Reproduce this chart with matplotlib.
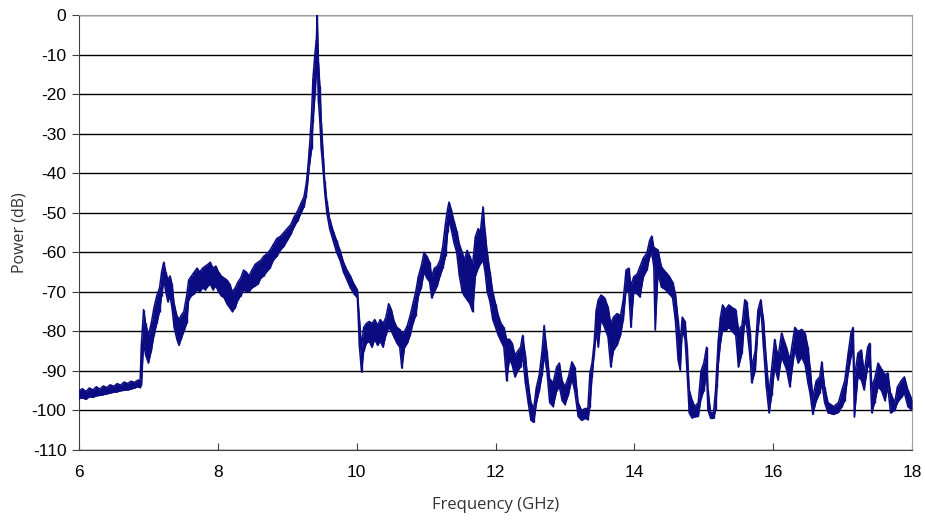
import numpy as np
import matplotlib.pyplot as plt

plt.rcParams['axes.unicode_minus'] = False

# frequency (GHz) and the upper / lower edge of the noisy trace (dB)
freq = [6.00, 6.05, 6.10, 6.15, 6.20, 6.25, 6.30, 6.35, 6.40, 6.45, 6.50, 6.55, 6.60, 6.65, 6.70,
        6.75, 6.80, 6.85, 6.88, 6.90, 6.93, 6.96, 7.00, 7.04, 7.08, 7.12, 7.16, 7.19, 7.22, 7.25,
        7.28, 7.31, 7.34, 7.37, 7.41, 7.44, 7.47, 7.51, 7.55, 7.58, 7.62, 7.66, 7.70, 7.74, 7.78,
        7.82, 7.86, 7.89, 7.93, 7.97, 8.01, 8.05, 8.09, 8.13, 8.17, 8.21, 8.25, 8.29, 8.33, 8.37,
        8.41, 8.45, 8.49, 8.54, 8.58, 8.62, 8.66, 8.70, 8.75, 8.80, 8.85, 8.90, 8.95, 9.00, 9.05,
        9.10, 9.15, 9.20, 9.24, 9.27, 9.29, 9.32, 9.35, 9.37, 9.40, 9.42, 9.43, 9.45, 9.47, 9.49,
        9.52, 9.54, 9.57, 9.61, 9.66, 9.71, 9.76, 9.81, 9.86, 9.91, 9.96, 10.01, 10.04, 10.07, 10.10,
        10.14, 10.18, 10.22, 10.26, 10.30, 10.34, 10.38, 10.42, 10.46, 10.50, 10.54, 10.58, 10.62, 10.65, 10.69,
        10.73, 10.77, 10.81, 10.85, 10.89, 10.93, 10.97, 11.01, 11.05, 11.08, 11.12, 11.16, 11.20, 11.24, 11.28,
        11.31, 11.33, 11.36, 11.40, 11.44, 11.48, 11.52, 11.55, 11.59, 11.63, 11.67, 11.71, 11.75, 11.78, 11.82,
        11.85, 11.88, 11.92, 11.96, 12.00, 12.04, 12.08, 12.12, 12.16, 12.20, 12.24, 12.28, 12.32, 12.36, 12.39,
        12.43, 12.47, 12.51, 12.55, 12.59, 12.63, 12.67, 12.70, 12.74, 12.78, 12.83, 12.88, 12.92, 12.96, 13.00,
        13.05, 13.10, 13.14, 13.19, 13.24, 13.29, 13.33, 13.36, 13.39, 13.42, 13.45, 13.48, 13.52, 13.57, 13.62,
        13.66, 13.70, 13.75, 13.80, 13.84, 13.88, 13.92, 13.95, 13.99, 14.04, 14.08, 14.13, 14.18, 14.22, 14.25,
        14.28, 14.30, 14.34, 14.39, 14.45, 14.50, 14.55, 14.59, 14.63, 14.66, 14.69, 14.73, 14.76, 14.79, 14.83,
        14.87, 14.92, 14.96, 15.00, 15.04, 15.06, 15.10, 15.14, 15.17, 15.19, 15.21, 15.24, 15.27, 15.31, 15.36,
        15.41, 15.46, 15.50, 15.55, 15.59, 15.62, 15.67, 15.69, 15.74, 15.78, 15.82, 15.86, 15.90, 15.94, 15.98,
        16.02, 16.07, 16.12, 16.19, 16.24, 16.31, 16.36, 16.41, 16.46, 16.50, 16.53, 16.57, 16.62, 16.67, 16.70,
        16.74, 16.79, 16.87, 16.94, 16.99, 17.03, 17.08, 17.12, 17.15, 17.17, 17.22, 17.27, 17.31, 17.36, 17.39,
        17.42, 17.46, 17.51, 17.56, 17.61, 17.65, 17.69, 17.75, 17.79, 17.85, 17.89, 17.94, 18.00]

power_hi = [-95.0, -94.5, -95.2, -94.3, -94.8, -94.0, -94.6, -93.8, -94.2, -93.5, -93.9, -93.2, -93.6, -92.8, -93.2,
            -92.6, -92.9, -92.3, -92.5, -83.0, -74.5, -78.0, -81.0, -78.0, -74.0, -71.0, -69.0, -65.0, -62.5, -65.0,
            -67.0, -66.0, -68.0, -73.0, -76.0, -77.0, -76.0, -75.0, -71.0, -67.0, -66.0, -65.0, -64.0, -65.0, -64.0,
            -63.5, -63.0, -62.5, -64.0, -63.5, -65.0, -66.0, -66.5, -67.0, -68.0, -70.0, -69.0, -67.5, -66.5, -64.5,
            -65.0, -66.0, -64.5, -63.0, -62.5, -62.0, -61.0, -60.5, -59.5, -58.0, -56.5, -56.0, -55.0, -54.0, -53.0,
            -51.0, -49.5, -47.5, -46.0, -43.0, -40.0, -33.5, -25.0, -16.0, -9.5, -6.0, 0.0, -12.0, -18.0, -27.0,
            -36.0, -42.0, -47.0, -51.5, -54.5, -57.0, -59.5, -62.5, -64.5, -66.0, -68.0, -69.5, -77.0, -84.0, -79.0,
            -78.0, -77.5, -78.0, -77.0, -78.5, -77.0, -78.0, -76.5, -73.0, -74.5, -77.5, -79.0, -79.5, -80.5, -80.0,
            -78.5, -76.0, -73.0, -70.0, -66.0, -63.5, -60.0, -61.0, -62.5, -66.0, -64.0, -63.5, -62.0, -58.5, -52.5,
            -49.0, -47.3, -49.0, -52.0, -54.5, -58.0, -60.0, -62.0, -59.5, -61.0, -63.0, -56.0, -54.0, -55.0, -48.5,
            -55.0, -60.0, -65.0, -70.0, -73.0, -76.0, -78.0, -79.0, -82.0, -82.0, -83.0, -86.0, -85.0, -84.0, -81.0,
            -86.0, -93.0, -98.0, -99.5, -94.0, -91.0, -85.0, -78.5, -85.0, -92.0, -93.0, -89.0, -88.0, -92.5, -94.0,
            -91.5, -87.7, -89.0, -98.0, -100.0, -99.5, -99.5, -90.5, -88.0, -83.0, -74.6, -72.0, -70.8, -71.5, -73.8,
            -78.0, -76.4, -75.5, -76.0, -72.0, -64.5, -64.0, -68.5, -66.2, -65.5, -63.7, -61.4, -60.2, -57.0, -55.9,
            -58.7, -59.0, -59.4, -63.7, -65.0, -66.0, -67.5, -70.3, -77.0, -83.0, -76.4, -77.5, -84.0, -94.8, -97.3,
            -99.0, -98.0, -90.0, -88.0, -84.0, -94.8, -100.6, -100.5, -94.8, -88.0, -82.0, -76.4, -73.3, -74.5, -73.3,
            -74.0, -74.5, -79.6, -78.5, -72.0, -72.5, -80.4, -89.0, -85.0, -74.6, -72.0, -77.0, -87.2, -95.6, -89.0,
            -82.0, -86.5, -80.4, -84.0, -87.2, -79.0, -80.0, -79.5, -80.5, -84.0, -89.0, -96.6, -92.5, -91.5, -87.7,
            -94.0, -98.0, -99.0, -98.0, -94.8, -92.5, -85.5, -80.4, -79.0, -91.5, -85.5, -84.7, -90.5, -84.0, -83.0,
            -94.0, -92.0, -88.0, -89.5, -91.0, -90.5, -95.6, -98.0, -94.0, -92.3, -91.5, -94.8, -97.3]

power_lo = [-97.0, -96.8, -97.2, -96.5, -96.7, -96.3, -96.2, -96.0, -95.8, -95.6, -95.4, -95.3, -95.0, -94.9, -94.8,
            -94.6, -94.3, -94.0, -94.2, -93.5, -83.0, -86.0, -88.0, -85.0, -81.0, -78.0, -75.0, -71.0, -67.0, -70.0,
            -72.5, -71.0, -74.0, -79.0, -82.0, -83.5, -82.0, -80.0, -78.0, -72.0, -71.0, -70.5, -69.5, -70.0, -69.0,
            -69.5, -68.5, -68.0, -69.5, -68.5, -70.0, -71.0, -71.5, -73.0, -74.0, -75.0, -74.0, -72.0, -71.0, -69.5,
            -70.0, -70.0, -69.0, -68.5, -68.0, -66.5, -66.0, -65.0, -64.0, -62.0, -61.0, -59.5, -58.5, -57.0, -55.5,
            -53.5, -52.0, -50.0, -48.5, -46.0, -43.0, -38.0, -34.0, -27.0, -20.0, -14.0, -10.0, -22.0, -27.0, -34.0,
            -40.0, -45.0, -50.0, -54.0, -57.0, -60.0, -62.0, -65.0, -67.0, -69.0, -70.5, -71.5, -84.0, -90.3, -85.0,
            -83.0, -82.5, -84.0, -82.0, -83.5, -82.5, -84.0, -81.0, -79.0, -80.0, -81.5, -83.0, -84.0, -89.3, -84.0,
            -83.0, -81.0, -78.0, -76.0, -71.0, -69.0, -65.0, -66.5, -67.5, -71.5, -70.0, -68.5, -66.0, -64.0, -61.0,
            -55.0, -52.0, -54.0, -57.5, -60.0, -66.0, -70.0, -71.0, -72.0, -73.0, -75.0, -66.0, -64.0, -63.0, -62.0,
            -65.0, -70.0, -72.5, -77.0, -79.0, -81.0, -82.5, -84.0, -92.5, -87.0, -88.5, -91.5, -90.0, -89.0, -86.0,
            -93.0, -98.0, -102.5, -103.0, -98.0, -95.0, -91.0, -86.0, -90.0, -98.0, -99.0, -95.0, -94.0, -97.5, -98.5,
            -96.0, -92.0, -95.0, -101.5, -102.5, -102.0, -102.3, -99.0, -91.5, -86.0, -80.0, -84.0, -77.0, -79.0, -81.4,
            -89.0, -84.7, -83.5, -81.0, -77.0, -69.5, -70.0, -79.0, -70.3, -70.5, -71.3, -66.2, -64.5, -61.2, -60.0,
            -63.7, -79.6, -65.3, -68.8, -69.5, -70.5, -71.5, -77.0, -87.2, -89.8, -79.6, -82.0, -90.5, -100.6, -101.9,
            -101.6, -101.5, -97.0, -95.0, -90.5, -100.0, -102.0, -102.0, -100.0, -94.0, -88.0, -83.0, -79.6, -80.0, -79.0,
            -80.0, -81.0, -89.0, -85.5, -77.0, -79.0, -87.2, -93.0, -90.0, -79.6, -73.8, -84.0, -94.0, -100.6, -96.0,
            -89.0, -92.3, -86.5, -89.5, -94.0, -84.7, -88.0, -86.5, -88.5, -93.0, -95.6, -101.0, -97.5, -95.6, -93.0,
            -98.0, -100.6, -101.0, -100.5, -99.0, -97.5, -90.5, -86.5, -84.0, -101.6, -91.5, -92.3, -94.8, -89.0, -88.0,
            -100.6, -98.0, -94.0, -95.0, -97.5, -94.0, -100.6, -100.0, -98.0, -96.6, -95.6, -99.0, -100.0]

xticks = [6, 8, 10, 12, 14, 16, 18]
yticks = list(range(-110, 1, 10))

trace = '#0c0c82'

fig = plt.figure(figsize=(9.25, 5.24), dpi=100)
ax = fig.add_axes([0.0854, 0.1412, 0.9006, 0.8302])

# the measured trace is a dense noisy band: fill between its edges, then outline them
ax.fill_between(freq, power_lo, power_hi, color=trace, lw=0, zorder=3)
ax.plot(freq, power_hi, color=trace, lw=1.1, zorder=3)
ax.plot(freq, power_lo, color=trace, lw=1.1, zorder=3)
# upright strokes at each reading keep the ragged look of the noise
ax.vlines(freq, power_lo, power_hi, color=trace, lw=1.0, zorder=3)

ax.set_xlim(6, 18)
ax.set_ylim(-110, 0)
ax.set_xticks(xticks)
ax.set_yticks(yticks)
ax.yaxis.grid(True, color='black', lw=1)
ax.set_axisbelow(True)

tick_font = ['Liberation Sans', 'DejaVu Sans']
for lab in ax.get_xticklabels() + ax.get_yticklabels():
    lab.set_family(tick_font)
    lab.set_fontsize(12.5)
ax.tick_params(axis='x', direction='in', length=5, color='#404040', pad=11)
ax.tick_params(axis='y', direction='out', length=5, color='#404040', pad=4)

for side in ['left', 'bottom']:
    ax.spines[side].set_color('#404040')
for side in ['top', 'right']:
    ax.spines[side].set_color('#a0a0a0')

ax.set_xlabel('Frequency (GHz)', fontsize=12, family=['Open Sans', 'DejaVu Sans'], color='#333333', labelpad=12)
ax.set_ylabel('Power (dB)', fontsize=11.5, family=['Open Sans', 'DejaVu Sans'], color='#333333', labelpad=3)

fig.savefig('out.png', dpi=100)
